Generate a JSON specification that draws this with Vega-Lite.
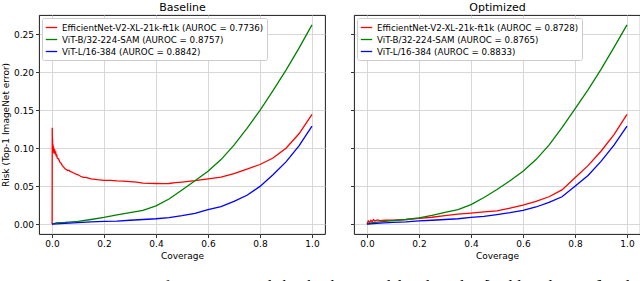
{
"$schema": "https://vega.github.io/schema/vega-lite/v6.json",
"padding": {"left": 1, "top": 0, "right": 1, "bottom": 0},
"config": {
  "font": "DejaVu Sans",
  "view": {"stroke": "#000000", "strokeWidth": 0.9},
  "axis": {"gridColor": "#d3d3d3", "gridWidth": 0.9, "domain": false, "tickColor": "#000000", "tickSize": 3.5, "tickWidth": 0.8, "labelFontSize": 9, "labelColor": "#000000", "titleFontSize": 9, "titleFontWeight": "normal", "titleColor": "#000000", "labelPadding": 2, "titlePadding": 3},
  "legend": {"orient": "top-left", "offset": 3, "fillColor": "white", "strokeColor": "#cccccc", "padding": 3, "cornerRadius": 2, "symbolType": "stroke", "symbolStrokeWidth": 1.5, "symbolSize": 130, "labelFontSize": 8.7, "labelColor": "#000000", "rowPadding": 0, "labelLimit": 300},
  "concat": {"spacing": 23},
  "line": {"strokeWidth": 1.3}
},
"datasets": {
"baseline": [
{"model":"EfficientNet-V2-XL-21k-ft1k","cov":0,"risk":0},
{"model":"EfficientNet-V2-XL-21k-ft1k","cov":0.0005,"risk":0},
{"model":"EfficientNet-V2-XL-21k-ft1k","cov":0.001,"risk":0.127},
{"model":"EfficientNet-V2-XL-21k-ft1k","cov":0.0015,"risk":0.098},
{"model":"EfficientNet-V2-XL-21k-ft1k","cov":0.002,"risk":0.112},
{"model":"EfficientNet-V2-XL-21k-ft1k","cov":0.003,"risk":0.094},
{"model":"EfficientNet-V2-XL-21k-ft1k","cov":0.004,"risk":0.105},
{"model":"EfficientNet-V2-XL-21k-ft1k","cov":0.005,"risk":0.097},
{"model":"EfficientNet-V2-XL-21k-ft1k","cov":0.006,"risk":0.102},
{"model":"EfficientNet-V2-XL-21k-ft1k","cov":0.008,"risk":0.093},
{"model":"EfficientNet-V2-XL-21k-ft1k","cov":0.01,"risk":0.099},
{"model":"EfficientNet-V2-XL-21k-ft1k","cov":0.012,"risk":0.092},
{"model":"EfficientNet-V2-XL-21k-ft1k","cov":0.014,"risk":0.096},
{"model":"EfficientNet-V2-XL-21k-ft1k","cov":0.016,"risk":0.089},
{"model":"EfficientNet-V2-XL-21k-ft1k","cov":0.018,"risk":0.092},
{"model":"EfficientNet-V2-XL-21k-ft1k","cov":0.02,"risk":0.087},
{"model":"EfficientNet-V2-XL-21k-ft1k","cov":0.025,"risk":0.086},
{"model":"EfficientNet-V2-XL-21k-ft1k","cov":0.03,"risk":0.082},
{"model":"EfficientNet-V2-XL-21k-ft1k","cov":0.035,"risk":0.08},
{"model":"EfficientNet-V2-XL-21k-ft1k","cov":0.04,"risk":0.077},
{"model":"EfficientNet-V2-XL-21k-ft1k","cov":0.045,"risk":0.075},
{"model":"EfficientNet-V2-XL-21k-ft1k","cov":0.05,"risk":0.073},
{"model":"EfficientNet-V2-XL-21k-ft1k","cov":0.055,"risk":0.072},
{"model":"EfficientNet-V2-XL-21k-ft1k","cov":0.06,"risk":0.0705},
{"model":"EfficientNet-V2-XL-21k-ft1k","cov":0.065,"risk":0.071},
{"model":"EfficientNet-V2-XL-21k-ft1k","cov":0.07,"risk":0.0695},
{"model":"EfficientNet-V2-XL-21k-ft1k","cov":0.08,"risk":0.068},
{"model":"EfficientNet-V2-XL-21k-ft1k","cov":0.09,"risk":0.066},
{"model":"EfficientNet-V2-XL-21k-ft1k","cov":0.1,"risk":0.065},
{"model":"EfficientNet-V2-XL-21k-ft1k","cov":0.11,"risk":0.063},
{"model":"EfficientNet-V2-XL-21k-ft1k","cov":0.12,"risk":0.0615},
{"model":"EfficientNet-V2-XL-21k-ft1k","cov":0.13,"risk":0.0615},
{"model":"EfficientNet-V2-XL-21k-ft1k","cov":0.15,"risk":0.0595},
{"model":"EfficientNet-V2-XL-21k-ft1k","cov":0.175,"risk":0.0585},
{"model":"EfficientNet-V2-XL-21k-ft1k","cov":0.2,"risk":0.0577},
{"model":"EfficientNet-V2-XL-21k-ft1k","cov":0.225,"risk":0.0575},
{"model":"EfficientNet-V2-XL-21k-ft1k","cov":0.25,"risk":0.057},
{"model":"EfficientNet-V2-XL-21k-ft1k","cov":0.275,"risk":0.0567},
{"model":"EfficientNet-V2-XL-21k-ft1k","cov":0.3,"risk":0.056},
{"model":"EfficientNet-V2-XL-21k-ft1k","cov":0.325,"risk":0.0553},
{"model":"EfficientNet-V2-XL-21k-ft1k","cov":0.35,"risk":0.054},
{"model":"EfficientNet-V2-XL-21k-ft1k","cov":0.375,"risk":0.0537},
{"model":"EfficientNet-V2-XL-21k-ft1k","cov":0.4,"risk":0.0535},
{"model":"EfficientNet-V2-XL-21k-ft1k","cov":0.425,"risk":0.0533},
{"model":"EfficientNet-V2-XL-21k-ft1k","cov":0.45,"risk":0.0535},
{"model":"EfficientNet-V2-XL-21k-ft1k","cov":0.475,"risk":0.0545},
{"model":"EfficientNet-V2-XL-21k-ft1k","cov":0.5,"risk":0.0553},
{"model":"EfficientNet-V2-XL-21k-ft1k","cov":0.55,"risk":0.0572},
{"model":"EfficientNet-V2-XL-21k-ft1k","cov":0.6,"risk":0.0595},
{"model":"EfficientNet-V2-XL-21k-ft1k","cov":0.65,"risk":0.062},
{"model":"EfficientNet-V2-XL-21k-ft1k","cov":0.7,"risk":0.0665},
{"model":"EfficientNet-V2-XL-21k-ft1k","cov":0.75,"risk":0.0725},
{"model":"EfficientNet-V2-XL-21k-ft1k","cov":0.8,"risk":0.0785},
{"model":"EfficientNet-V2-XL-21k-ft1k","cov":0.85,"risk":0.087},
{"model":"EfficientNet-V2-XL-21k-ft1k","cov":0.9,"risk":0.1},
{"model":"EfficientNet-V2-XL-21k-ft1k","cov":0.95,"risk":0.119},
{"model":"EfficientNet-V2-XL-21k-ft1k","cov":1.0,"risk":0.1445},
{"model":"ViT-B/32-224-SAM","cov":0,"risk":0},
{"model":"ViT-B/32-224-SAM","cov":0.02,"risk":0.002},
{"model":"ViT-B/32-224-SAM","cov":0.05,"risk":0.0022},
{"model":"ViT-B/32-224-SAM","cov":0.1,"risk":0.0035},
{"model":"ViT-B/32-224-SAM","cov":0.15,"risk":0.006},
{"model":"ViT-B/32-224-SAM","cov":0.2,"risk":0.0088},
{"model":"ViT-B/32-224-SAM","cov":0.25,"risk":0.012},
{"model":"ViT-B/32-224-SAM","cov":0.3,"risk":0.015},
{"model":"ViT-B/32-224-SAM","cov":0.35,"risk":0.018},
{"model":"ViT-B/32-224-SAM","cov":0.4,"risk":0.024},
{"model":"ViT-B/32-224-SAM","cov":0.45,"risk":0.033},
{"model":"ViT-B/32-224-SAM","cov":0.5,"risk":0.045},
{"model":"ViT-B/32-224-SAM","cov":0.55,"risk":0.057},
{"model":"ViT-B/32-224-SAM","cov":0.6,"risk":0.0695},
{"model":"ViT-B/32-224-SAM","cov":0.65,"risk":0.085},
{"model":"ViT-B/32-224-SAM","cov":0.7,"risk":0.104},
{"model":"ViT-B/32-224-SAM","cov":0.75,"risk":0.126},
{"model":"ViT-B/32-224-SAM","cov":0.8,"risk":0.15},
{"model":"ViT-B/32-224-SAM","cov":0.85,"risk":0.176},
{"model":"ViT-B/32-224-SAM","cov":0.9,"risk":0.203},
{"model":"ViT-B/32-224-SAM","cov":0.95,"risk":0.232},
{"model":"ViT-B/32-224-SAM","cov":1.0,"risk":0.2625},
{"model":"ViT-L/16-384","cov":0,"risk":0},
{"model":"ViT-L/16-384","cov":0.05,"risk":0.001},
{"model":"ViT-L/16-384","cov":0.1,"risk":0.002},
{"model":"ViT-L/16-384","cov":0.15,"risk":0.003},
{"model":"ViT-L/16-384","cov":0.2,"risk":0.0035},
{"model":"ViT-L/16-384","cov":0.25,"risk":0.004},
{"model":"ViT-L/16-384","cov":0.3,"risk":0.005},
{"model":"ViT-L/16-384","cov":0.35,"risk":0.006},
{"model":"ViT-L/16-384","cov":0.4,"risk":0.007},
{"model":"ViT-L/16-384","cov":0.45,"risk":0.0085},
{"model":"ViT-L/16-384","cov":0.5,"risk":0.011},
{"model":"ViT-L/16-384","cov":0.55,"risk":0.014},
{"model":"ViT-L/16-384","cov":0.6,"risk":0.019},
{"model":"ViT-L/16-384","cov":0.65,"risk":0.023},
{"model":"ViT-L/16-384","cov":0.7,"risk":0.03},
{"model":"ViT-L/16-384","cov":0.75,"risk":0.038},
{"model":"ViT-L/16-384","cov":0.8,"risk":0.0497},
{"model":"ViT-L/16-384","cov":0.85,"risk":0.065},
{"model":"ViT-L/16-384","cov":0.9,"risk":0.082},
{"model":"ViT-L/16-384","cov":0.95,"risk":0.103},
{"model":"ViT-L/16-384","cov":1.0,"risk":0.129}
],
"optimized": [
{"model":"EfficientNet-V2-XL-21k-ft1k","cov":0,"risk":0},
{"model":"EfficientNet-V2-XL-21k-ft1k","cov":0.005,"risk":0.004},
{"model":"EfficientNet-V2-XL-21k-ft1k","cov":0.01,"risk":0.002},
{"model":"EfficientNet-V2-XL-21k-ft1k","cov":0.015,"risk":0.005},
{"model":"EfficientNet-V2-XL-21k-ft1k","cov":0.02,"risk":0.003},
{"model":"EfficientNet-V2-XL-21k-ft1k","cov":0.025,"risk":0.006},
{"model":"EfficientNet-V2-XL-21k-ft1k","cov":0.03,"risk":0.004},
{"model":"EfficientNet-V2-XL-21k-ft1k","cov":0.04,"risk":0.0055},
{"model":"EfficientNet-V2-XL-21k-ft1k","cov":0.05,"risk":0.0045},
{"model":"EfficientNet-V2-XL-21k-ft1k","cov":0.07,"risk":0.005},
{"model":"EfficientNet-V2-XL-21k-ft1k","cov":0.1,"risk":0.0052},
{"model":"EfficientNet-V2-XL-21k-ft1k","cov":0.15,"risk":0.006},
{"model":"EfficientNet-V2-XL-21k-ft1k","cov":0.2,"risk":0.0075},
{"model":"EfficientNet-V2-XL-21k-ft1k","cov":0.25,"risk":0.009},
{"model":"EfficientNet-V2-XL-21k-ft1k","cov":0.3,"risk":0.011},
{"model":"EfficientNet-V2-XL-21k-ft1k","cov":0.35,"risk":0.013},
{"model":"EfficientNet-V2-XL-21k-ft1k","cov":0.4,"risk":0.0145},
{"model":"EfficientNet-V2-XL-21k-ft1k","cov":0.45,"risk":0.016},
{"model":"EfficientNet-V2-XL-21k-ft1k","cov":0.5,"risk":0.0175},
{"model":"EfficientNet-V2-XL-21k-ft1k","cov":0.55,"risk":0.021},
{"model":"EfficientNet-V2-XL-21k-ft1k","cov":0.6,"risk":0.025},
{"model":"EfficientNet-V2-XL-21k-ft1k","cov":0.65,"risk":0.03},
{"model":"EfficientNet-V2-XL-21k-ft1k","cov":0.7,"risk":0.036},
{"model":"EfficientNet-V2-XL-21k-ft1k","cov":0.75,"risk":0.045},
{"model":"EfficientNet-V2-XL-21k-ft1k","cov":0.8,"risk":0.061},
{"model":"EfficientNet-V2-XL-21k-ft1k","cov":0.85,"risk":0.077},
{"model":"EfficientNet-V2-XL-21k-ft1k","cov":0.9,"risk":0.096},
{"model":"EfficientNet-V2-XL-21k-ft1k","cov":0.95,"risk":0.118},
{"model":"EfficientNet-V2-XL-21k-ft1k","cov":1.0,"risk":0.1445},
{"model":"ViT-B/32-224-SAM","cov":0,"risk":0},
{"model":"ViT-B/32-224-SAM","cov":0.02,"risk":0.002},
{"model":"ViT-B/32-224-SAM","cov":0.05,"risk":0.003},
{"model":"ViT-B/32-224-SAM","cov":0.1,"risk":0.0045},
{"model":"ViT-B/32-224-SAM","cov":0.15,"risk":0.006},
{"model":"ViT-B/32-224-SAM","cov":0.2,"risk":0.0082},
{"model":"ViT-B/32-224-SAM","cov":0.25,"risk":0.0115},
{"model":"ViT-B/32-224-SAM","cov":0.3,"risk":0.0155},
{"model":"ViT-B/32-224-SAM","cov":0.35,"risk":0.019},
{"model":"ViT-B/32-224-SAM","cov":0.4,"risk":0.0256},
{"model":"ViT-B/32-224-SAM","cov":0.45,"risk":0.035},
{"model":"ViT-B/32-224-SAM","cov":0.5,"risk":0.0455},
{"model":"ViT-B/32-224-SAM","cov":0.55,"risk":0.057},
{"model":"ViT-B/32-224-SAM","cov":0.6,"risk":0.0695},
{"model":"ViT-B/32-224-SAM","cov":0.65,"risk":0.085},
{"model":"ViT-B/32-224-SAM","cov":0.7,"risk":0.104},
{"model":"ViT-B/32-224-SAM","cov":0.75,"risk":0.127},
{"model":"ViT-B/32-224-SAM","cov":0.8,"risk":0.152},
{"model":"ViT-B/32-224-SAM","cov":0.85,"risk":0.177},
{"model":"ViT-B/32-224-SAM","cov":0.9,"risk":0.204},
{"model":"ViT-B/32-224-SAM","cov":0.95,"risk":0.233},
{"model":"ViT-B/32-224-SAM","cov":1.0,"risk":0.2625},
{"model":"ViT-L/16-384","cov":0,"risk":0},
{"model":"ViT-L/16-384","cov":0.05,"risk":0.0012},
{"model":"ViT-L/16-384","cov":0.1,"risk":0.0022},
{"model":"ViT-L/16-384","cov":0.15,"risk":0.003},
{"model":"ViT-L/16-384","cov":0.2,"risk":0.0042},
{"model":"ViT-L/16-384","cov":0.25,"risk":0.005},
{"model":"ViT-L/16-384","cov":0.3,"risk":0.006},
{"model":"ViT-L/16-384","cov":0.35,"risk":0.007},
{"model":"ViT-L/16-384","cov":0.4,"risk":0.0088},
{"model":"ViT-L/16-384","cov":0.45,"risk":0.01},
{"model":"ViT-L/16-384","cov":0.5,"risk":0.0125},
{"model":"ViT-L/16-384","cov":0.55,"risk":0.015},
{"model":"ViT-L/16-384","cov":0.6,"risk":0.018},
{"model":"ViT-L/16-384","cov":0.65,"risk":0.0225},
{"model":"ViT-L/16-384","cov":0.7,"risk":0.0285},
{"model":"ViT-L/16-384","cov":0.75,"risk":0.036},
{"model":"ViT-L/16-384","cov":0.8,"risk":0.0497},
{"model":"ViT-L/16-384","cov":0.85,"risk":0.064},
{"model":"ViT-L/16-384","cov":0.9,"risk":0.0827},
{"model":"ViT-L/16-384","cov":0.95,"risk":0.104},
{"model":"ViT-L/16-384","cov":1.0,"risk":0.129}
]
},
"title": {"text": "Figure 1: A comparison of RC curves made by the three models selected in [Galil et al., 2023] including the", "orient": "bottom", "anchor": "start", "frame": "bounds", "baseline": "top", "font": "Liberation Serif", "fontSize": 16, "fontWeight": "normal", "offset": 18, "color": "#000000"},
"hconcat": [
{
  "width": 286, "height": 219,
  "data": {"name": "baseline"},
  "layer": [
    {
      "mark": {"type": "line", "clip": true},
      "encoding": {
        "x": {"field": "cov", "type": "quantitative", "scale": {"domain": [-0.05, 1.05], "nice": false, "zero": false}, "axis": {"values": [0, 0.2, 0.4, 0.6, 0.8, 1.0], "format": ".1f", "title": "Coverage"}},
        "y": {"field": "risk", "type": "quantitative", "scale": {"domain": [-0.0131, 0.2756], "nice": false, "zero": false}, "axis": {"values": [0, 0.05, 0.1, 0.15, 0.2, 0.25], "format": ".2f", "title": "Risk (Top-1 ImageNet error)"}},
        "color": {"field": "model", "type": "nominal", "sort": null,
          "scale": {"domain": ["EfficientNet-V2-XL-21k-ft1k", "ViT-B/32-224-SAM", "ViT-L/16-384"], "range": ["#ff0000", "#008000", "#0000ff"]},
          "legend": {"title": null, "labelExpr": "datum.label === 'EfficientNet-V2-XL-21k-ft1k' ? datum.label + ' (AUROC = 0.7736)' : datum.label === 'ViT-B/32-224-SAM' ? datum.label + ' (AUROC = 0.8757)' : datum.label + ' (AUROC = 0.8842)'"}}
      }
    },
    {
      "mark": {"type": "point", "opacity": 0, "size": 1},
      "encoding": {
        "x": {"field": "cov", "type": "quantitative", "axis": {"orient": "top", "title": "Baseline", "labels": false, "ticks": false, "grid": false, "domain": false, "titleFontSize": 11, "titlePadding": 3}}
      }
    }
  ],
  "resolve": {"axis": {"x": "independent"}}
},
{
  "width": 286, "height": 219,
  "data": {"name": "optimized"},
  "layer": [
    {
      "mark": {"type": "line", "clip": true},
      "encoding": {
        "x": {"field": "cov", "type": "quantitative", "scale": {"domain": [-0.05, 1.05], "nice": false, "zero": false}, "axis": {"values": [0, 0.2, 0.4, 0.6, 0.8, 1.0], "format": ".1f", "title": "Coverage"}},
        "y": {"field": "risk", "type": "quantitative", "scale": {"domain": [-0.0131, 0.2756], "nice": false, "zero": false}, "axis": {"values": [0, 0.05, 0.1, 0.15, 0.2, 0.25], "labels": false, "title": null}},
        "color": {"field": "model", "type": "nominal", "sort": null,
          "scale": {"domain": ["EfficientNet-V2-XL-21k-ft1k", "ViT-B/32-224-SAM", "ViT-L/16-384"], "range": ["#ff0000", "#008000", "#0000ff"]},
          "legend": {"title": null, "labelExpr": "datum.label === 'EfficientNet-V2-XL-21k-ft1k' ? datum.label + ' (AUROC = 0.8728)' : datum.label === 'ViT-B/32-224-SAM' ? datum.label + ' (AUROC = 0.8765)' : datum.label + ' (AUROC = 0.8833)'"}}
      }
    },
    {
      "mark": {"type": "point", "opacity": 0, "size": 1},
      "encoding": {
        "x": {"field": "cov", "type": "quantitative", "axis": {"orient": "top", "title": "Optimized", "labels": false, "ticks": false, "grid": false, "domain": false, "titleFontSize": 11, "titlePadding": 3}}
      }
    }
  ],
  "resolve": {"axis": {"x": "independent"}}
}
],
"resolve": {"scale": {"color": "independent", "y": "independent"}, "legend": {"color": "independent"}}
}
